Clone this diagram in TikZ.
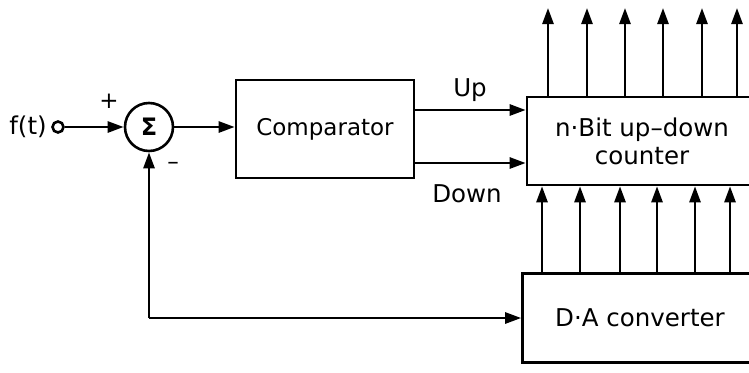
\documentclass[tikz,border=0pt]{standalone}
\usepackage{fontspec}
\setmainfont{DejaVu Sans}
\usetikzlibrary{arrows.meta}
\tikzset{
  txt/.style={font=\fontsize{23}{27}\selectfont},
  bigtxt/.style={font=\fontsize{24.5}{28}\selectfont},
  blk/.style={draw, line width=2.6pt, inner sep=0pt, txt},
  conn/.style={draw, line width=2.6pt, -{Triangle[length=16pt,width=11pt]}}
}
\begin{document}
\begin{tikzpicture}[x=1pt,y=-1pt]
\useasboundingbox (0,0) rectangle (749,372);
\clip (0,0) rectangle (749,372);
% nodes
\node[bigtxt] (f) at (28,127) {f(t)};
\node[draw,circle,line width=2.6pt,minimum size=11pt,inner sep=0pt] (src) at (58,127) {};
\node[draw,circle,line width=2.6pt,minimum size=48pt,inner sep=0pt,font=\fontsize{24}{28}\selectfont\bfseries] (sum) at (149,127) {Σ};
\node[txt] (plus) at (109,101) {+};
\node[txt] (minus) at (173,166) {–};
\node[blk, minimum width=178pt, minimum height=98pt] (cmp) at (325,129) {Comparator};
\node[blk, bigtxt, minimum width=230pt, minimum height=88pt, align=center] (cnt) at (642,141) {n·Bit up–down\\counter};
\node[blk, bigtxt, minimum width=235pt, minimum height=89pt] (da) at (640,318) {D·A converter};
\node[bigtxt] (up) at (470,90) {Up};
\node[bigtxt] (down) at (467,194) {Down};
% connectors
\path[conn] (src) -- (sum);
\path[conn] (sum) -- (cmp.west |- sum);
\path[conn] (cmp.east |- 0,110) -- (cnt.west |- 0,110);
\path[conn] (cmp.east |- 0,163) -- (cnt.west |- 0,163);
\foreach \x/\n in {548/1,587/2,625/3,663/4,702/5,737/6}{
  \coordinate (o\n) at (\x,8);
  \path[conn] (o\n |- cnt.north) -- (o\n);
}
\foreach \x/\n in {542/1,580/2,620/3,657/4,695/5,730/6}{
  \coordinate (b\n) at (\x,0);
  \path[conn] (b\n |- da.north) -- (b\n |- cnt.south);
}
\coordinate (corner) at (sum.south |- da.west);
\path[conn] (corner) -- (sum.south);
\path[conn] (corner) -- (da.west);
\end{tikzpicture}
\end{document}
